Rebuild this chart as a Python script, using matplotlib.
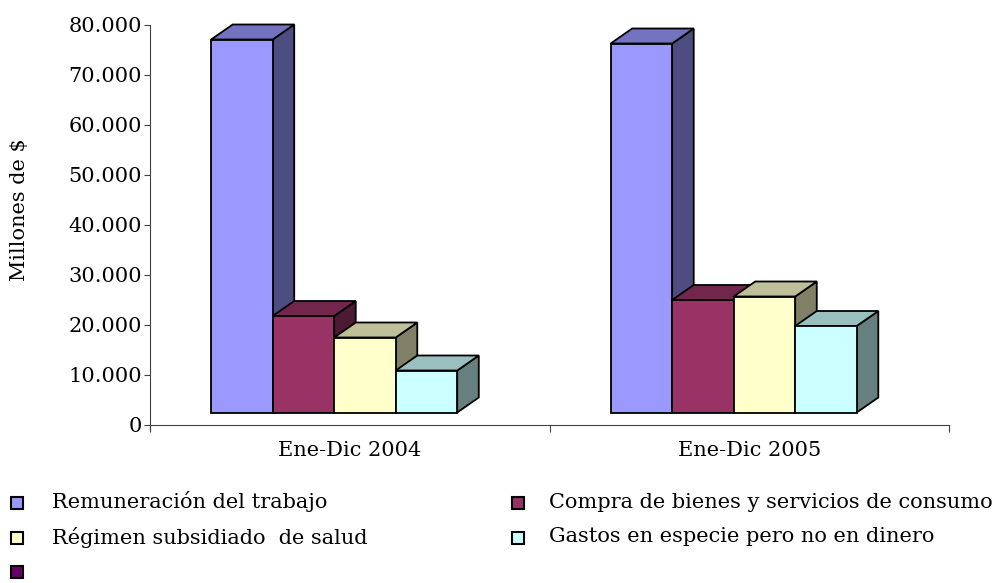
import matplotlib.pyplot as plt
from matplotlib.patches import Polygon, Rectangle
import numpy as np

# --- data ---
categories = ['Ene-Dic 2004', 'Ene-Dic 2005']
series = ['Remuneración del trabajo', 'Compra de bienes y servicios de consumo',
          'Régimen subsidiado  de salud', 'Gastos en especie pero no en dinero', '']
# lectura en el eje del tope de la cara frontal de cada barra
remuneracion = [77100, 76300]
compra = [21800, 25000]
regimen = [17500, 25700]
gastos = [10900, 19800]

front_colors = ['#9999FF', '#993366', '#FFFFCC', '#CCFFFF', '#660066']

W, H = 1002, 583
FS = 15
fig = plt.figure(figsize=(W / 100, H / 100), dpi=100)

# ejes: x 150..949 px, y 25..425 px
ax = fig.add_axes([150 / W, (H - 425) / H, (949 - 150) / W, 400 / H])
ax.set_xlim(-0.5, 1.5)
ax.set_ylim(0, 80000)

FLOOR = 2500       # piso 3D elevado sobre el eje
BAR_W = 0.154
X0 = -0.347        # borde izquierdo del grupo respecto al centro
DX, DY = 0.054, 3000   # profundidad 3D


def shade(hexcol, f):
    h = hexcol.lstrip('#')
    r, g, b = (int(h[i:i + 2], 16) for i in (0, 2, 4))
    return (r * f / 255, g * f / 255, b * f / 255)


serie_vals = [remuneracion, compra, regimen, gastos]
for ci in range(len(categories)):
    for si, vals in enumerate(serie_vals):
        x_l = ci + X0 + si * BAR_W
        x_r = x_l + BAR_W
        top = vals[ci]
        col = front_colors[si]
        kw = dict(edgecolor='black', linewidth=1.3, clip_on=False, joinstyle='miter')
        # cara lateral
        ax.add_patch(Polygon([(x_r, FLOOR), (x_r + DX, FLOOR + DY), (x_r + DX, top + DY), (x_r, top)],
                             facecolor=shade(col, 0.5), **kw))
        # cara superior
        ax.add_patch(Polygon([(x_l, top), (x_r, top), (x_r + DX, top + DY), (x_l + DX, top + DY)],
                             facecolor=shade(col, 0.75), **kw))
        # cara frontal
        ax.add_patch(Rectangle((x_l, FLOOR), BAR_W, top - FLOOR, facecolor=col, **kw))

# ejes y ticks
for s in ['top', 'right']:
    ax.spines[s].set_visible(False)
ax.spines['left'].set_color('#404040')
ax.spines['bottom'].set_color('#404040')
ax.spines['left'].set_bounds(-1000, 80000)

ax.set_yticks(np.arange(0, 80001, 10000))
ax.set_yticklabels(['0'] + [f'{v // 1000}.000' for v in range(10000, 80001, 10000)],
                   fontfamily='DejaVu Serif', fontsize=FS)
ax.tick_params(axis='y', direction='out', length=4, color='#404040', pad=2)

ax.set_xticks([-0.5, 0.5, 1.5])
ax.set_xticklabels([])
ax.tick_params(axis='x', direction='out', length=5, color='#404040')
for ci, cat in enumerate(categories):
    ax.text(ci, -5200, cat, ha='center', va='center', fontfamily='DejaVu Serif', fontsize=FS)

fig.text(20 / W, 1 - 210 / H, 'Millones de $', rotation=90, ha='center', va='center',
         fontfamily='DejaVu Serif', fontsize=FS)

# leyenda (3 filas, 2 columnas)
legend_pos = [(0, 0), (1, 0), (0, 1), (1, 1), (0, 2)]
col_x = [11, 512]
text_x = [52, 549]
row_y = [503, 538, 572]
sq = 12
for si, (c, r) in enumerate(legend_pos):
    x, y = col_x[c], row_y[r]
    fig.patches.append(Rectangle((x / W, 1 - (y + sq / 2) / H), sq / W, sq / H,
                                 transform=fig.transFigure, facecolor=front_colors[si],
                                 edgecolor='black', linewidth=1.5))
    fig.text(text_x[c] / W, 1 - (y - 1) / H, series[si], ha='left', va='center',
             fontfamily='DejaVu Serif', fontsize=FS)

fig.savefig('out.png', dpi=100)
